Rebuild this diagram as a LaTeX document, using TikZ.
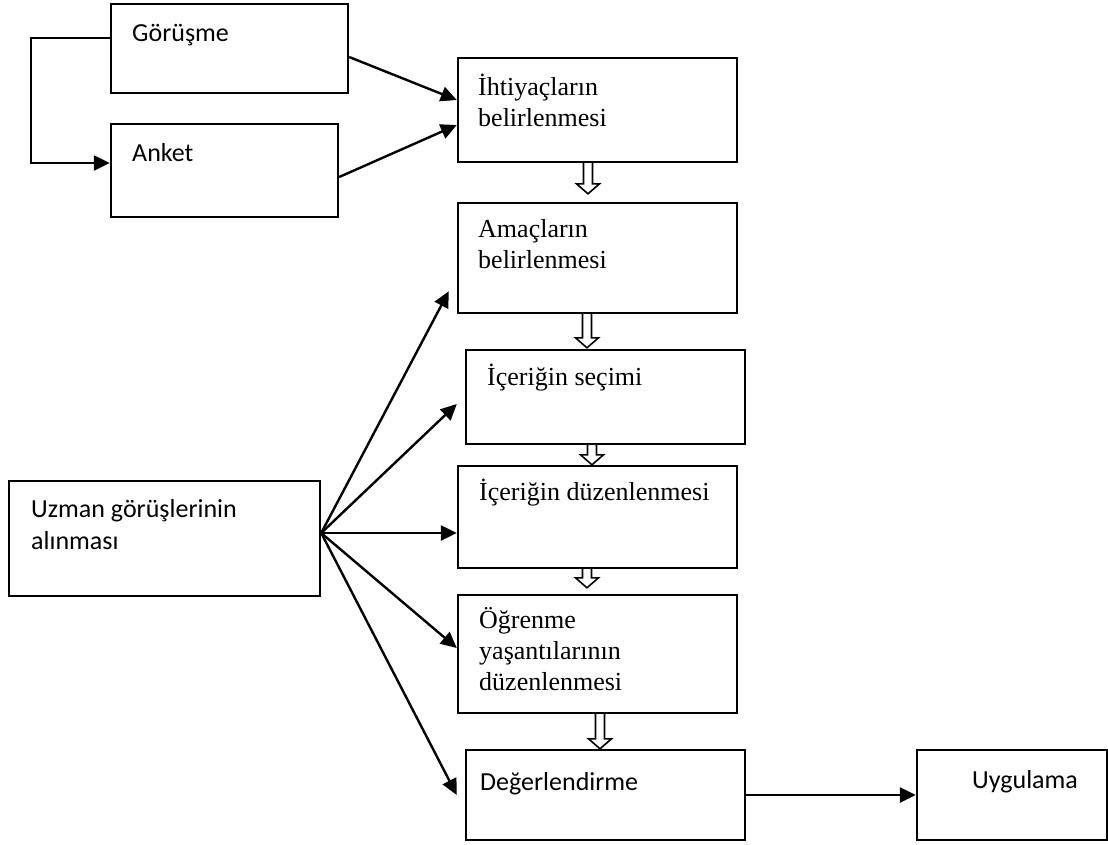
\documentclass[tikz,border=0pt]{standalone}
\usepackage{fontspec}
\setmainfont{Liberation Serif}
\newfontfamily\calibri{Carlito}
\usepackage{tikz}
\usetikzlibrary{calc,arrows.meta}

\tikzset{
  box/.style={draw, line width=2.4pt, rectangle, inner sep=0},
  serifTxt/.style={font=\fontsize{26}{31}\selectfont, align=left, anchor=base west, inner sep=0},
  sansTxt/.style={font=\calibri\fontsize{26}{32}\selectfont, align=left, anchor=base west, inner sep=0},
  link/.style={line width=2.4pt, -{Triangle[length=16pt,width=15pt]}},
  hollow/.style={draw, line width=1.6pt, line join=miter, to path={
    let \p1=(\tikztostart), \p2=(\tikztotarget) in
    (\x1-4.5pt,\y1) -- (\x1-4.5pt,\y2+10pt) -- (\x1-11.5pt,\y2+10pt) -- (\x1,\y2)
    -- (\x1+11.5pt,\y2+10pt) -- (\x1+4.5pt,\y2+10pt) -- (\x1+4.5pt,\y1)}}
}

\begin{document}
\begin{tikzpicture}[x=1pt, y=-1pt]
\fill[white] (0,0) rectangle (1108,844);
\useasboundingbox (0,0) rectangle (1108,844);

% Data collection
\node[box, minimum width=237, minimum height=89] (gorusme) at (229.5,48.5) {};
\node[sansTxt] (gorusmeT) at (132,41) {Görüşme};
\node[box, minimum width=227, minimum height=93] (anket) at (224.5,170.5) {};
\node[sansTxt] (anketT) at (132,161) {Anket};
\node[box, minimum width=311, minimum height=115] (uzman) at (164.5,538.5) {};
\node[sansTxt] (uzmanT) at (31,549) {Uzman görüşlerinin\\alınması};

% Main steps
\node[box, minimum width=279, minimum height=104] (ihtiyac) at (597.5,110) {};
\node[serifTxt] (ihtiyacT) at (478,126) {İhtiyaçların\\belirlenmesi};
\node[box, minimum width=279, minimum height=110] (amac) at (597.5,258) {};
\node[serifTxt] (amacT) at (478,268) {Amaçların\\belirlenmesi};
\node[box, minimum width=279, minimum height=94] (secim) at (605.5,397) {};
\node[serifTxt] (secimT) at (487,385) {İçeriğin seçimi};
\node[box, minimum width=279, minimum height=102] (duzen) at (597.5,517) {};
\node[serifTxt] (duzenT) at (479,500) {İçeriğin düzenlenmesi};
\node[box, minimum width=279, minimum height=118] (ogrenme) at (597.5,654) {};
\node[serifTxt] (ogrenmeT) at (479,690) {Öğrenme\\yaşantılarının\\düzenlenmesi};
\node[box, minimum width=279, minimum height=90] (deger) at (605.5,795) {};
\node[sansTxt] (degerT) at (480,790) {Değerlendirme};
\node[box, minimum width=190, minimum height=90] (uygulama) at (1012,795) {};
\node[sansTxt] (uygulamaT) at (972,788) {Uygulama};

% Görüşme / Anket
\draw[link] ([yshift=10.5pt]gorusme.west) -- ++(-79,0) |- ([yshift=7.5pt]anket.west);
\draw[link] ([yshift=-8.5pt]gorusme.east) -- ([yshift=10pt]ihtiyac.west);
\draw[link] ([yshift=-6.5pt]anket.east) -- ([yshift=-15pt]ihtiyac.west);

% Expert opinions
\coordinate (fan) at ([yshift=5.5pt]uzman.east);
\draw[link] (fan) -- ($(amac.south west)+(-8,-23)$);
\draw[link] (fan) -- ([xshift=-8pt,yshift=-7pt]secim.west);
\draw[link] (fan) -- ([yshift=-16pt]duzen.west);
\draw[link] (fan) -- ([yshift=6pt]ogrenme.west);
\draw[link] (fan) -- ([xshift=-8pt]deger.west);
\draw[link] (deger.east) -- (uygulama.west);

% Hollow arrows between steps
\draw[hollow] ([xshift=-9.5pt]ihtiyac.south) to ([xshift=-9.5pt,yshift=8pt]amac.north);
\draw[hollow] ([xshift=-10.5pt]amac.south) to ([xshift=-18.5pt,yshift=1pt]secim.north);
\draw[hollow] ([xshift=-13.5pt]secim.south) to ([xshift=-5.5pt]duzen.north);
\draw[hollow] ([xshift=-10.5pt]duzen.south) to ([xshift=-10.5pt,yshift=6pt]ogrenme.north);
\draw[hollow] ([xshift=2.5pt]ogrenme.south) to ([xshift=-5.5pt]deger.north);
\end{tikzpicture}
\end{document}
